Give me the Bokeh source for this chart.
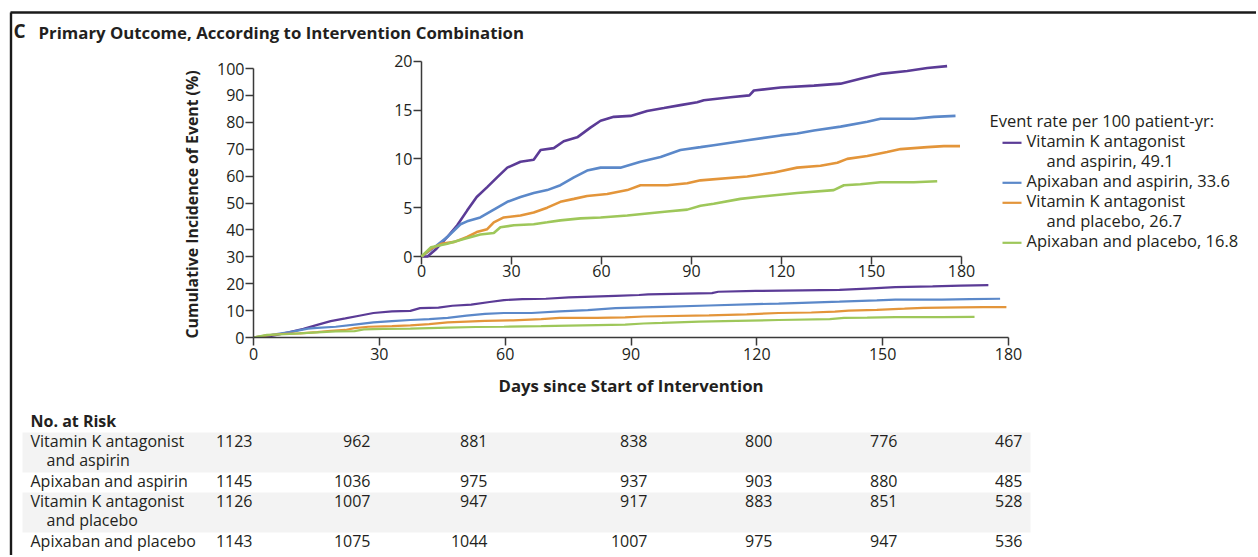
import math
from bokeh.plotting import figure
from bokeh.models import Range1d, LinearAxis, FixedTicker
from bokeh.core.properties import value
from bokeh.embed import file_html
from bokeh.resources import INLINE

# ---------------- data ----------------
group_lines = [["Vitamin K antagonist", "and aspirin"], ["Apixaban and aspirin"],
               ["Vitamin K antagonist", "and placebo"], ["Apixaban and placebo"]]
event_rates = [49.1, 33.6, 26.7, 16.8]

days_vka_asp = [0, 2, 5, 8.6, 11.9, 15.2, 18.4, 21.9, 25.2, 28.6, 33, 37.4, 39.7, 44.1, 47.4,
                51.9, 56.3, 59.7, 64.1, 69.7, 75.2, 80.8, 86.3, 91.9, 94.1, 103, 109.3, 110.8,
                119.7, 130.8, 139.7, 146.3, 153, 161.9, 168.6, 175.2]
inc_vka_asp = [0, 0, 0.8, 2.0, 3.2, 4.7, 6.1, 7.1, 8.1, 9.1, 9.7, 9.9, 10.9, 11.1, 11.8,
               12.2, 13.2, 13.9, 14.3, 14.4, 14.9, 15.2, 15.5, 15.8, 16.0, 16.3, 16.5, 17.0,
               17.3, 17.5, 17.7, 18.2, 18.7, 19.0, 19.3, 19.5]

days_api_asp = [0, 4.3, 8.6, 13, 15.2, 19.6, 24.1, 28.6, 33, 37.4, 41.9, 46.3, 50.8, 55.2,
                59.7, 66.3, 73, 79.7, 86.3, 93, 97.4, 108.6, 119.7, 125.2, 130.8, 139.7,
                148.6, 153, 164.1, 170.8, 178]
inc_api_asp = [0, 0.95, 2.0, 3.3, 3.6, 4.0, 4.8, 5.6, 6.1, 6.5, 6.8, 7.3, 8.1, 8.8,
               9.1, 9.1, 9.7, 10.2, 10.9, 11.2, 11.4, 11.9, 12.4, 12.6, 12.9, 13.3,
               13.8, 14.1, 14.1, 14.3, 14.4]

days_vka_pla = [0, 3.2, 6.6, 11, 15.2, 18.4, 21.9, 24.1, 27.4, 33, 37.4, 41.9, 46.3, 50.8,
                55.2, 61.9, 68.6, 73, 81.9, 88.6, 93, 108.6, 117.6, 125.2, 133, 138.6, 141.9,
                148.6, 155.2, 159.7, 168.6, 174.1, 179.5]
inc_vka_pla = [0, 0.8, 1.3, 1.5, 2.0, 2.5, 2.8, 3.5, 4.0, 4.2, 4.5, 5.0, 5.6, 5.9,
               6.2, 6.4, 6.8, 7.3, 7.3, 7.5, 7.8, 8.2, 8.6, 9.1, 9.3, 9.6, 10.0,
               10.3, 10.7, 11.0, 11.2, 11.3, 11.3]

days_api_pla = [0, 3.2, 8.6, 14.1, 19.6, 24.1, 26.3, 30.8, 37.4, 41.9, 46.3, 53, 59.7, 68.6,
                75.2, 81.9, 88.6, 93, 97.4, 106.3, 115.2, 125.2, 137.4, 140.8, 146.3, 153,
                164.1, 171.9]
inc_api_pla = [0, 0.95, 1.3, 1.8, 2.25, 2.4, 3.0, 3.2, 3.3, 3.5, 3.7, 3.9, 4.0, 4.2,
               4.4, 4.6, 4.8, 5.2, 5.4, 5.9, 6.2, 6.5, 6.8, 7.3, 7.4, 7.6,
               7.6, 7.7]

day_ticks = [0, 30, 60, 90, 120, 150, 180]
main_y_ticks = [0, 10, 20, 30, 40, 50, 60, 70, 80, 90, 100]
inset_y_ticks = [0, 5, 10, 15, 20]

risk_days = [0, 30, 60, 90, 120, 150, 180]
risk_vka_asp = [1123, 962, 881, 838, 800, 776, 467]
risk_api_asp = [1145, 1036, 975, 937, 903, 880, 485]
risk_vka_pla = [1126, 1007, 947, 917, 883, 851, 528]
risk_api_pla = [1143, 1075, 1044, 1007, 975, 947, 536]

series_days = [days_vka_asp, days_api_asp, days_vka_pla, days_api_pla]
series_inc = [inc_vka_asp, inc_api_asp, inc_vka_pla, inc_api_pla]
risk_rows = [risk_vka_asp, risk_api_asp, risk_vka_pla, risk_api_pla]

# ---------------- styling / layout ----------------
COLORS = ["#5b3b96", "#5b88c9", "#e3953a", "#9ec75a"]
FONT = "Open Sans"
TXT = "#231f20"
AXC = "#3a3a3a"

W, H = 1256, 555
MX0, MX1 = 253, 1008          # page x of day 0 / day 180 (main)
MY0, MY100, MYTOP = 337, 68, 50
ky = (MY0 - MY100) / 100.0
main_ymax = (MY0 - MYTOP) / ky

IX0, IX1 = 421, 961           # page x of day 0 / 180 (inset)
IY0, IY20 = 256, 60.7         # page y of 0% / 20% (inset)
kxi = (IX1 - IX0) / 180.0
kyi = (IY0 - IY20) / 20.0

p = figure(width=W, height=H, output_backend="svg", toolbar_location=None,
           x_range=Range1d(0, 180), y_range=Range1d(0, main_ymax),
           min_border_left=MX0, min_border_right=W - MX1,
           min_border_top=MYTOP, min_border_bottom=H - MY0)
p.xgrid.visible = False
p.ygrid.visible = False
p.outline_line_color = None
p.background_fill_color = "white"
p.border_fill_color = "white"

p.extra_x_ranges = {"px": Range1d(MX0, MX1),
                    "ix": Range1d(-(IX0 - MX0) / kxi, 180 + (MX1 - IX1) / kxi)}
p.extra_y_ranges = {"py": Range1d(MY0, MYTOP),
                    "iy": Range1d(-(MY0 - IY0) / kyi, (IY0 - MYTOP) / kyi)}


def style_axis(ax, ticks, bounds, standoff):
    ax.ticker = FixedTicker(ticks=ticks)
    ax.bounds = bounds
    ax.minor_tick_line_color = None
    ax.major_tick_in = 0
    ax.major_tick_out = 8
    ax.major_label_standoff = standoff
    ax.axis_line_color = AXC
    ax.axis_line_width = 1.5
    ax.major_tick_line_color = AXC
    ax.major_tick_line_width = 1.5
    ax.major_label_text_font = FONT
    ax.major_label_text_font_size = "16px"
    ax.major_label_text_color = TXT


xa = p.below[0]
ya = p.left[0]
style_axis(xa, day_ticks, (0, 180), 2)
style_axis(ya, main_y_ticks, (0, 100), 1)
xa.axis_label = "Days since Start of Intervention"
xa.axis_label_text_font = FONT
xa.axis_label_text_font_size = "16.8px"
xa.axis_label_text_font_style = "bold"
xa.axis_label_text_color = TXT
xa.axis_label_standoff = 11

# inset axes
iya = LinearAxis(x_range_name="ix", y_range_name="iy", fixed_location=0)
style_axis(iya, inset_y_ticks, (0, 20), 1)
p.add_layout(iya, "left")
ixa = LinearAxis(x_range_name="ix", y_range_name="iy", fixed_location=0)
style_axis(ixa, day_ticks, (0, 180), 0)
p.add_layout(ixa, "below")

# curves: main and inset
for d, v, c in zip(series_days, series_inc, COLORS):
    p.line(d, v, line_color=c, line_width=2.2)
for d, v, c in zip(series_days, series_inc, COLORS):
    p.line(d, v, line_color=c, line_width=2.6, x_range_name="ix", y_range_name="iy",
           level="overlay")


def txt(xs, ys, texts, size=16, style="normal", align="left", baseline="alphabetic",
        angle=0.0):
    dy = 0.42 * size if baseline == "alphabetic" else 0.0
    p.text(x=xs, y=[y - dy for y in ys], text=texts, x_range_name="px", y_range_name="py",
           text_font=value(FONT), text_font_size="%spx" % size, text_font_style=style,
           text_align=align, text_baseline=baseline, text_color=TXT, angle=angle,
           level="overlay")


# frame border of the panel
p.segment(x0=[10.5, 10], y0=[12, 12], x1=[10.5, 1262], y1=[560, 12],
          line_color="#1a1a1a", line_width=2.4, x_range_name="px", y_range_name="py",
          level="overlay")

# title
txt([13], [38.8], ["C"], size=19, style="bold")
txt([38], [39], ["Primary Outcome, According to Intervention Combination"], size=16.8,
    style="bold")

# y axis label
txt([191], [204], ["Cumulative Incidence of Event (%)"], size=15.8, style="bold",
    align="center", baseline="middle", angle=math.pi / 2)

# legend
LX_LINE0, LX_LINE1, LX_TEXT, LX_CONT = 1002, 1021, 1026, 1046
ly = 126.8
txt([989], [ly], ["Event rate per 100 patient-yr:"], size=16.5)
ly += 20
for lines, rate, c in zip(group_lines, event_rates, COLORS):
    p.segment(x0=[LX_LINE0], y0=[ly - 4.5], x1=[LX_LINE1], y1=[ly - 4.5], line_color=c,
              line_width=2.2, x_range_name="px", y_range_name="py", level="overlay")
    for k, ln in enumerate(lines):
        s = ln + (", %.1f" % rate if k == len(lines) - 1 else "")
        txt([LX_TEXT if k == 0 else LX_CONT], [ly], [s], size=16.5)
        ly += 20

# risk table
top = 432
for i, lines in enumerate(group_lines):
    hgt = 20 * len(lines)
    if i % 2 == 0:
        p.quad(left=[22], right=[1030], top=[top], bottom=[top + hgt], fill_color="#f3f3f3",
               line_color=None, x_range_name="px", y_range_name="py", level="overlay")
    top += hgt

txt([30], [427.5], ["No. at Risk"], style="bold")
col_right = [252, 370, 487, 647, 772, 897, 1022]
top = 432
for lines, counts in zip(group_lines, risk_rows):
    base = top + 15.6
    for k, ln in enumerate(lines):
        txt([30 if k == 0 else 46], [base + 18.6 * k], [ln])
    txt(col_right, [base] * len(counts), [str(n) for n in counts], align="right")
    top += 20 * len(lines)

open("out.html", "w").write(file_html(p, INLINE))
